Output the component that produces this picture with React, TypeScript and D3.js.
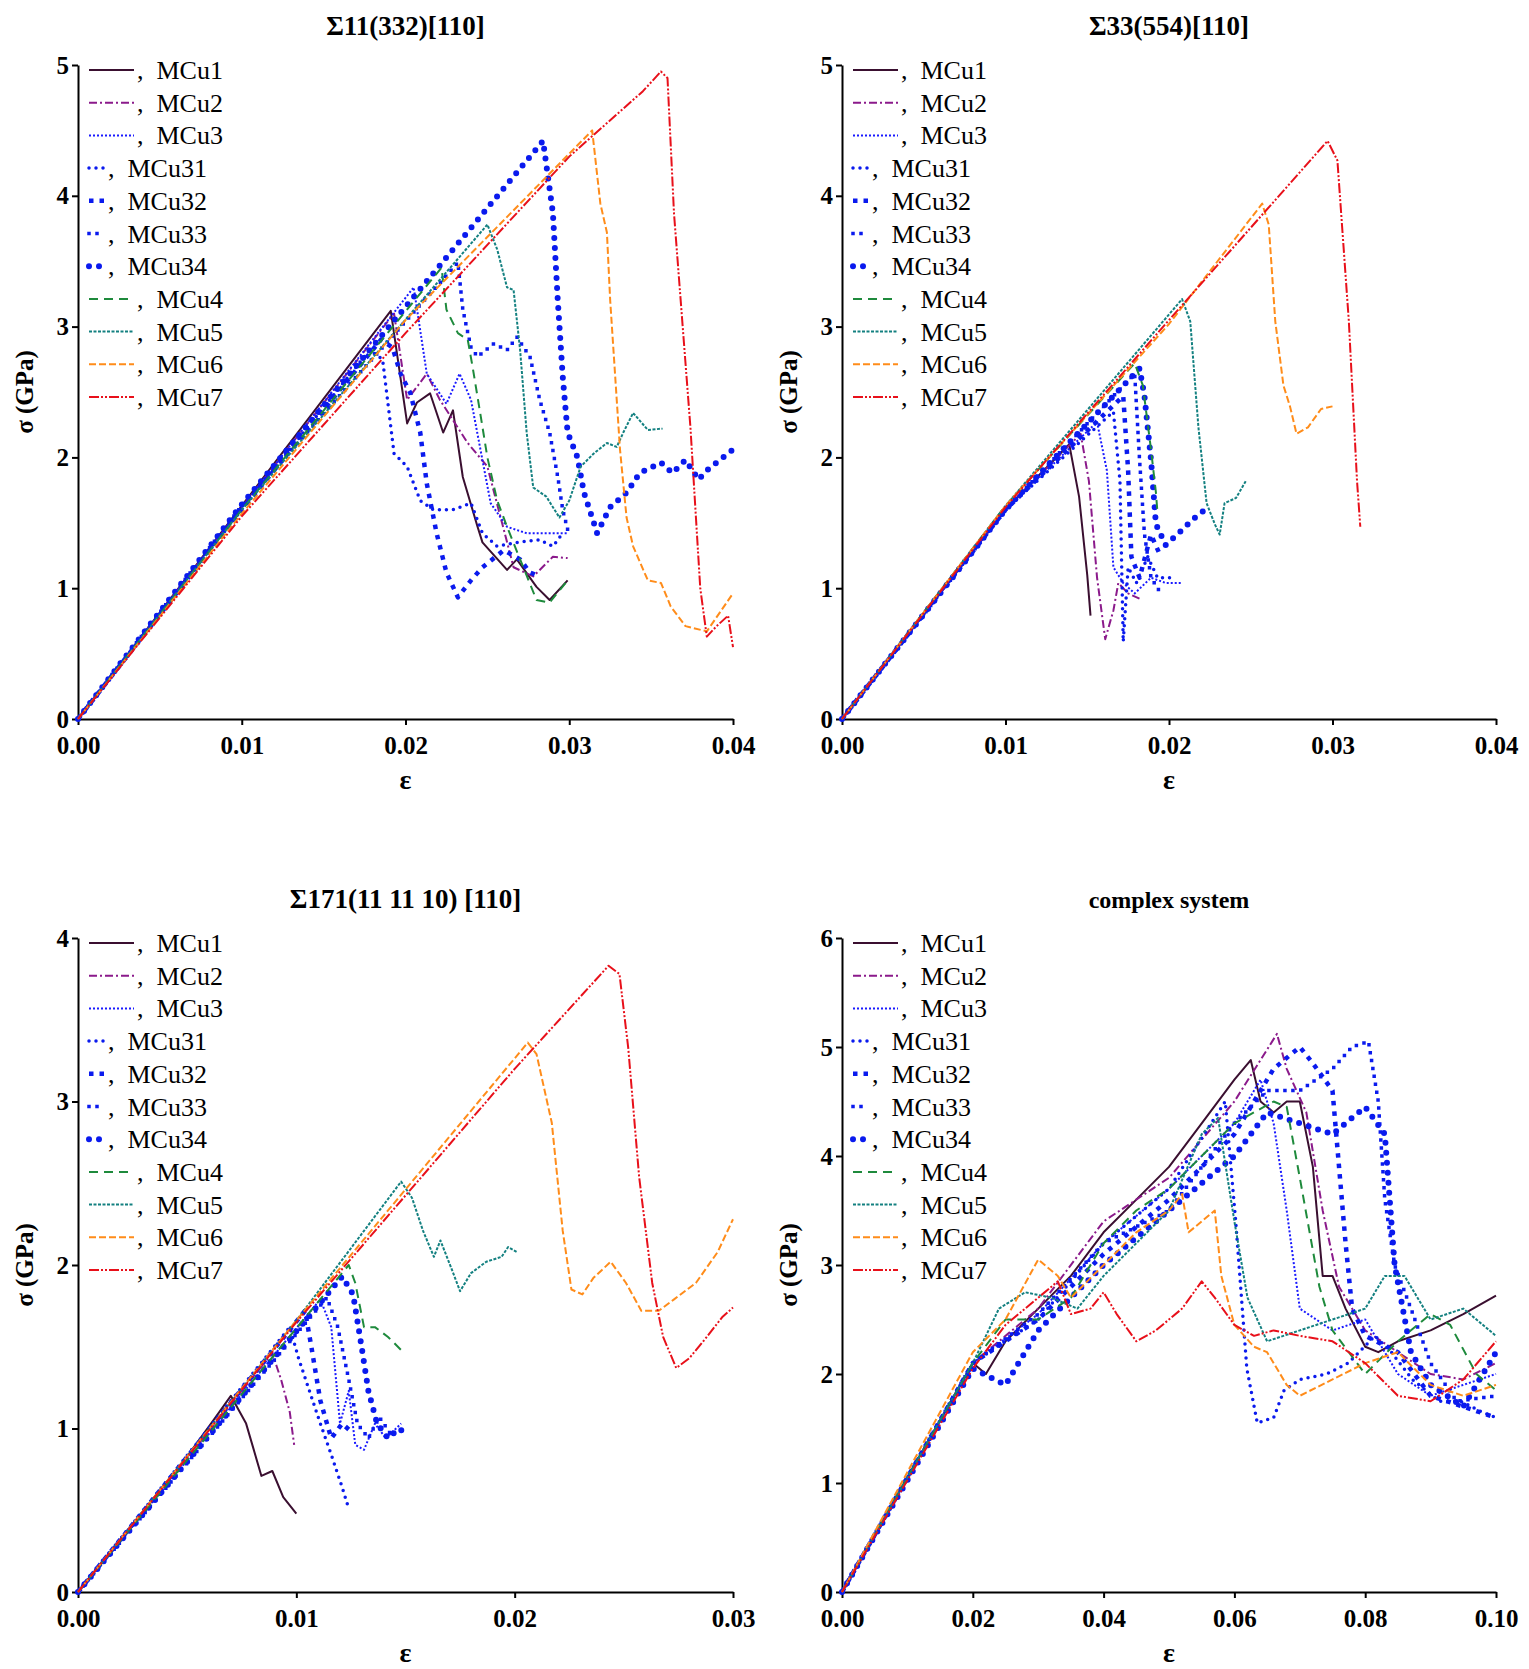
import React, { useEffect, useRef } from 'react';
import * as d3 from 'd3';

type Pt = [number, number];

const seriesNames = ['MCu1', 'MCu2', 'MCu3', 'MCu31', 'MCu32', 'MCu33', 'MCu34', 'MCu4', 'MCu5', 'MCu6', 'MCu7'];

// panel 1: Σ11(332)[110]
const p1: Pt[][] = [
  [[0, 0], [0.01, 1.63], [0.0191, 3.12], [0.0201, 2.26], [0.0207, 2.42], [0.0215, 2.49], [0.0223, 2.19], [0.0229, 2.36], [0.0235, 1.85], [0.0244, 1.47], [0.0247, 1.35], [0.0262, 1.14], [0.0268, 1.22], [0.028, 1.01], [0.0288, 0.91], [0.0299, 1.06]],
  [[0, 0], [0.01, 1.62], [0.0193, 3.1], [0.0201, 2.44], [0.0213, 2.64], [0.0221, 2.44], [0.0238, 2.11], [0.025, 1.93], [0.0266, 1.16], [0.0278, 1.09], [0.029, 1.24], [0.0299, 1.23]],
  [[0, 0], [0.01, 1.62], [0.0205, 3.3], [0.0213, 2.64], [0.0225, 2.41], [0.0233, 2.64], [0.024, 2.44], [0.0252, 1.65], [0.0262, 1.47], [0.0274, 1.42], [0.0286, 1.42], [0.0299, 1.42]],
  [[0, 0], [0.01, 1.6], [0.0178, 2.82], [0.0186, 2.75], [0.0193, 2.03], [0.0201, 1.93], [0.0209, 1.67], [0.0217, 1.6], [0.0229, 1.6], [0.024, 1.65], [0.0247, 1.42], [0.0256, 1.32], [0.0268, 1.35], [0.0282, 1.37], [0.029, 1.32], [0.0296, 1.42]],
  [[0, 0], [0.01, 1.6], [0.0185, 2.9], [0.0192, 2.84], [0.0197, 2.64], [0.0203, 2.49], [0.0209, 2.19], [0.0213, 1.8], [0.0219, 1.42], [0.0225, 1.12], [0.0232, 0.93], [0.024, 1.06], [0.0247, 1.16], [0.026, 1.29], [0.027, 1.22], [0.0276, 1.12], [0.0282, 1.09]],
  [[0, 0], [0.01, 1.63], [0.0232, 3.49], [0.0235, 3.13], [0.024, 2.84], [0.0244, 2.77], [0.0254, 2.87], [0.0262, 2.82], [0.0268, 2.92], [0.0276, 2.77], [0.0282, 2.44], [0.0288, 2.19], [0.0293, 1.85], [0.0296, 1.6], [0.0299, 1.45]],
  [[0, 0], [0.01, 1.64], [0.0284, 4.42], [0.029, 3.87], [0.0293, 3.2], [0.0296, 2.62], [0.0299, 2.19], [0.0305, 2.0], [0.0309, 1.73], [0.0315, 1.5], [0.0317, 1.42], [0.0325, 1.62], [0.0335, 1.73], [0.0343, 1.88], [0.0356, 1.96], [0.0363, 1.88], [0.0371, 1.98], [0.0379, 1.83], [0.0384, 1.9], [0.04, 2.06]],
  [[0, 0], [0.01, 1.6], [0.0222, 3.45], [0.0225, 3.13], [0.0232, 2.95], [0.0238, 2.9], [0.0241, 2.69], [0.0246, 2.31], [0.025, 2.0], [0.0256, 1.67], [0.0262, 1.47], [0.027, 1.22], [0.028, 0.91], [0.0288, 0.89], [0.0299, 1.06]],
  [[0, 0], [0.01, 1.6], [0.025, 3.78], [0.0256, 3.59], [0.0262, 3.3], [0.0266, 3.28], [0.027, 2.82], [0.0274, 2.19], [0.0278, 1.77], [0.0286, 1.7], [0.0294, 1.54], [0.03, 1.67], [0.0307, 1.93], [0.0315, 2.03], [0.0323, 2.11], [0.0329, 2.08], [0.0333, 2.19], [0.0339, 2.34], [0.0348, 2.21], [0.0357, 2.22]],
  [[0, 0], [0.01, 1.57], [0.02, 3.05], [0.0314, 4.5], [0.0319, 3.94], [0.0323, 3.72], [0.0325, 3.2], [0.0329, 2.44], [0.0331, 2.06], [0.0335, 1.54], [0.0339, 1.32], [0.0348, 1.06], [0.0356, 1.04], [0.0362, 0.86], [0.0371, 0.71], [0.0384, 0.67], [0.04, 0.96]],
  [[0, 0], [0.01, 1.55], [0.02, 2.95], [0.03, 4.3], [0.0345, 4.8], [0.0356, 4.95], [0.036, 4.9], [0.0364, 3.86], [0.0374, 2.23], [0.038, 1.0], [0.0384, 0.63], [0.039, 0.71], [0.0397, 0.79], [0.04, 0.55]],
];

// panel 2: Σ33(554)[110]
const p2: Pt[][] = [
  [[0, 0], [0.01, 1.6], [0.0139, 2.1], [0.0145, 1.7], [0.015, 1.1], [0.0152, 0.79]],
  [[0, 0], [0.01, 1.6], [0.0146, 2.18], [0.0151, 1.82], [0.0156, 1.08], [0.0161, 0.61], [0.0166, 0.83], [0.0169, 1.04], [0.0175, 0.96], [0.0182, 0.92]],
  [[0, 0], [0.01, 1.6], [0.0156, 2.27], [0.0162, 1.9], [0.0166, 1.16], [0.0172, 1.04], [0.0179, 0.96], [0.0189, 1.08], [0.0198, 1.04], [0.0208, 1.04]],
  [[0, 0], [0.01, 1.6], [0.0166, 2.35], [0.017, 1.82], [0.0172, 0.59], [0.0175, 1.16], [0.018, 1.04], [0.0187, 1.24], [0.0193, 1.08], [0.0202, 1.08]],
  [[0, 0], [0.01, 1.6], [0.0172, 2.47], [0.0175, 1.9], [0.0177, 1.24], [0.0182, 1.08], [0.0189, 1.41], [0.0195, 1.24]],
  [[0, 0], [0.01, 1.6], [0.0179, 2.64], [0.0182, 1.98], [0.0185, 1.41], [0.0189, 1.08], [0.0195, 0.96]],
  [[0, 0], [0.01, 1.6], [0.0182, 2.68], [0.0185, 2.47], [0.0189, 1.98], [0.0192, 1.49], [0.0198, 1.33], [0.0205, 1.41], [0.0215, 1.53], [0.0221, 1.59]],
  [[0, 0], [0.01, 1.63], [0.0179, 2.72], [0.0184, 2.55], [0.0189, 2.06], [0.0192, 1.73], [0.0193, 1.57]],
  [[0, 0], [0.01, 1.63], [0.0208, 3.21], [0.0213, 3.04], [0.0218, 2.23], [0.0223, 1.65], [0.0228, 1.49], [0.0231, 1.41], [0.0234, 1.65], [0.0241, 1.69], [0.0247, 1.82]],
  [[0, 0], [0.01, 1.63], [0.02, 3.02], [0.0257, 3.94], [0.0261, 3.78], [0.0265, 3.04], [0.027, 2.55], [0.0274, 2.39], [0.0278, 2.18], [0.0285, 2.23], [0.0293, 2.37], [0.03, 2.39]],
  [[0, 0], [0.01, 1.62], [0.02, 3.05], [0.0297, 4.42], [0.0303, 4.27], [0.031, 3.04], [0.0315, 1.82], [0.0317, 1.47]],
];

// panel 3: Σ171(11 11 10) [110]
const p3: Pt[][] = [
  [[0, 0], [0.005, 0.83], [0.0062, 1.05], [0.0070, 1.2], [0.0077, 1.03], [0.0084, 0.71], [0.0089, 0.74], [0.0094, 0.58], [0.01, 0.48]],
  [[0, 0], [0.0089, 1.46], [0.0093, 1.3], [0.0097, 1.1], [0.0099, 0.9]],
  [[0, 0], [0.0111, 1.79], [0.0116, 1.62], [0.012, 1.03], [0.0124, 1.23], [0.0127, 0.9], [0.0131, 0.87], [0.0136, 1.03], [0.0141, 0.94], [0.0148, 1.03]],
  [[0, 0], [0.0097, 1.62], [0.0101, 1.43], [0.0106, 1.23], [0.0111, 1.03], [0.0116, 0.84], [0.0121, 0.64], [0.0124, 0.51]],
  [[0, 0], [0.0104, 1.72], [0.0107, 1.49], [0.0111, 1.17], [0.0116, 0.94], [0.0121, 1.03], [0.0126, 0.97]],
  [[0, 0], [0.0114, 1.8], [0.0119, 1.62], [0.0124, 1.3], [0.0128, 1.03], [0.0133, 0.94], [0.0138, 1.07], [0.0143, 0.97]],
  [[0, 0], [0.0121, 1.93], [0.0126, 1.82], [0.013, 1.49], [0.0133, 1.23], [0.0137, 1.03], [0.0142, 0.94], [0.0147, 1.0], [0.015, 0.97]],
  [[0, 0], [0.0124, 2.0], [0.0127, 1.89], [0.0131, 1.62], [0.0136, 1.62], [0.0142, 1.56], [0.0148, 1.48]],
  [[0, 0], [0.01, 1.66], [0.0148, 2.51], [0.0153, 2.41], [0.0158, 2.21], [0.0163, 2.05], [0.0166, 2.15], [0.0171, 1.98], [0.0175, 1.84], [0.018, 1.95], [0.0187, 2.02], [0.0194, 2.05], [0.0197, 2.11], [0.0201, 2.08]],
  [[0, 0], [0.01, 1.66], [0.0206, 3.36], [0.021, 3.29], [0.0217, 2.87], [0.0222, 2.21], [0.0226, 1.85], [0.0231, 1.82], [0.0236, 1.92], [0.0244, 2.02], [0.0251, 1.89], [0.0258, 1.72], [0.0266, 1.72], [0.0273, 1.79], [0.0283, 1.89], [0.0293, 2.08], [0.03, 2.28]],
  [[0, 0], [0.01, 1.65], [0.02, 3.2], [0.0243, 3.83], [0.0248, 3.78], [0.0252, 3.33], [0.0257, 2.54], [0.0263, 1.89], [0.0268, 1.56], [0.0274, 1.37], [0.028, 1.43], [0.0288, 1.56], [0.0295, 1.68], [0.03, 1.74]],
];

// panel 4: complex system
const p4: Pt[][] = [
  [[0, 0], [0.02, 2.1], [0.022, 2.0], [0.025, 2.3], [0.03, 2.6], [0.035, 2.9], [0.04, 3.3], [0.045, 3.6], [0.05, 3.9], [0.055, 4.3], [0.06, 4.7], [0.0625, 4.88], [0.064, 4.5], [0.066, 4.4], [0.068, 4.5], [0.07, 4.5], [0.072, 3.9], [0.0735, 2.9], [0.075, 2.9], [0.077, 2.6], [0.08, 2.25], [0.082, 2.2], [0.085, 2.3], [0.09, 2.4], [0.095, 2.55], [0.1, 2.72]],
  [[0, 0], [0.02, 2.1], [0.03, 2.6], [0.04, 3.4], [0.05, 3.8], [0.06, 4.5], [0.0665, 5.12], [0.068, 4.8], [0.071, 4.4], [0.0735, 3.5], [0.076, 2.8], [0.08, 2.4], [0.085, 2.2], [0.09, 2.0], [0.095, 1.95], [0.1, 2.1]],
  [[0, 0], [0.02, 2.1], [0.03, 2.55], [0.04, 3.2], [0.05, 3.7], [0.06, 4.3], [0.064, 4.7], [0.066, 4.3], [0.068, 3.5], [0.07, 2.6], [0.075, 2.4], [0.08, 2.5], [0.085, 2.0], [0.09, 1.8], [0.095, 1.9], [0.1, 2.0]],
  [[0, 0], [0.02, 2.1], [0.03, 2.5], [0.04, 3.2], [0.05, 3.7], [0.0586, 4.5], [0.0602, 3.4], [0.0619, 2.05], [0.0635, 1.55], [0.066, 1.6], [0.0676, 1.85], [0.07, 1.95], [0.0741, 2.0], [0.0774, 2.1], [0.0815, 2.35], [0.084, 2.2], [0.0872, 1.95], [0.0913, 1.75], [0.0946, 1.75], [0.0979, 1.65], [0.1, 1.6]],
  [[0, 0], [0.02, 2.1], [0.03, 2.5], [0.04, 3.1], [0.05, 3.6], [0.06, 4.2], [0.066, 4.8], [0.07, 5.0], [0.072, 4.85], [0.075, 4.6], [0.077, 3.2], [0.078, 2.6], [0.08, 2.35], [0.085, 2.2], [0.09, 1.8], [0.095, 1.7], [0.1, 1.6]],
  [[0, 0], [0.02, 2.1], [0.03, 2.55], [0.04, 3.2], [0.05, 3.5], [0.06, 4.3], [0.065, 4.6], [0.07, 4.6], [0.075, 4.8], [0.078, 5.0], [0.0805, 5.05], [0.082, 4.5], [0.083, 3.6], [0.0845, 3.0], [0.087, 2.6], [0.09, 2.1], [0.094, 1.75], [0.1, 1.8]],
  [[0, 0], [0.02, 2.05], [0.025, 1.9], [0.03, 2.4], [0.04, 3.0], [0.05, 3.5], [0.06, 4.0], [0.065, 4.4], [0.07, 4.3], [0.075, 4.2], [0.08, 4.45], [0.083, 4.2], [0.0845, 3.0], [0.087, 2.2], [0.09, 1.9], [0.095, 1.7], [0.1, 2.2]],
  [[0, 0], [0.02, 2.1], [0.025, 2.5], [0.03, 2.5], [0.035, 2.7], [0.04, 3.2], [0.045, 3.5], [0.05, 3.7], [0.055, 4.0], [0.06, 4.3], [0.063, 4.4], [0.066, 4.5], [0.068, 4.45], [0.07, 3.8], [0.073, 2.8], [0.075, 2.4], [0.08, 2.0], [0.085, 2.3], [0.09, 2.55], [0.093, 2.45], [0.097, 2.0], [0.1, 1.85]],
  [[0, 0], [0.02, 2.1], [0.024, 2.6], [0.028, 2.75], [0.032, 2.7], [0.036, 2.6], [0.04, 2.9], [0.045, 3.2], [0.05, 3.5], [0.055, 4.2], [0.0575, 4.35], [0.06, 3.4], [0.062, 2.7], [0.065, 2.3], [0.07, 2.4], [0.075, 2.5], [0.08, 2.6], [0.083, 2.9], [0.086, 2.9], [0.09, 2.5], [0.095, 2.6], [0.1, 2.35]],
  [[0, 0], [0.02, 2.2], [0.025, 2.5], [0.03, 3.05], [0.033, 2.9], [0.035, 2.7], [0.04, 3.0], [0.045, 3.3], [0.05, 3.5], [0.052, 3.65], [0.053, 3.3], [0.055, 3.4], [0.057, 3.5], [0.058, 2.9], [0.06, 2.45], [0.063, 2.25], [0.065, 2.2], [0.068, 1.9], [0.07, 1.8], [0.075, 1.95], [0.08, 2.1], [0.085, 2.2], [0.09, 1.9], [0.095, 1.8], [0.1, 1.9]],
  [[0, 0], [0.02, 2.05], [0.025, 2.45], [0.03, 2.7], [0.033, 2.85], [0.035, 2.55], [0.038, 2.6], [0.04, 2.75], [0.042, 2.55], [0.045, 2.3], [0.048, 2.4], [0.052, 2.6], [0.055, 2.85], [0.057, 2.7], [0.06, 2.45], [0.063, 2.35], [0.066, 2.4], [0.07, 2.35], [0.075, 2.3], [0.08, 2.1], [0.085, 1.8], [0.09, 1.75], [0.095, 1.95], [0.1, 2.3]],
];

const titles = ['Σ11(332)[110]', 'Σ33(554)[110]', 'Σ171(11 11 10) [110]', 'complex system'];
const xMaxes = [0.04, 0.04, 0.03, 0.1];
const yMaxes = [5, 5, 4, 6];
const xTickStep = [0.01, 0.01, 0.01, 0.02];

type Style = { color: string; width: number; dash: string; cap: string; short: boolean };
const styles: Style[] = [
  { color: '#3a0f30', width: 2, dash: '', cap: 'butt', short: false },
  { color: '#8b1a8b', width: 2, dash: '8,3,2,3', cap: 'butt', short: false },
  { color: '#1a1aff', width: 2, dash: '2,2', cap: 'butt', short: false },
  { color: '#0a1aee', width: 3.5, dash: '0,7', cap: 'round', short: true },
  { color: '#0a1aee', width: 4.5, dash: '4.5,6', cap: 'butt', short: true },
  { color: '#0a1aee', width: 3.5, dash: '0,8', cap: 'square', short: true },
  { color: '#0a1aee', width: 6, dash: '0,10', cap: 'round', short: true },
  { color: '#1e8a3c', width: 2, dash: '9,6', cap: 'butt', short: false },
  { color: '#138080', width: 2, dash: '3,1.5', cap: 'butt', short: false },
  { color: '#ff8c1a', width: 2, dash: '7,3', cap: 'butt', short: false },
  { color: '#e8101a', width: 2, dash: '10,2,2,2,2,2', cap: 'butt', short: false },
];

const panels = [
  { data: p1, left: 78, right: 733, top: 65, bottom: 719 },
  { data: p2, left: 842, right: 1496, top: 65, bottom: 719 },
  { data: p3, left: 78, right: 733, top: 938, bottom: 1592 },
  { data: p4, left: 842, right: 1496, top: 938, bottom: 1592 },
];

export default function App() {
  const ref = useRef<SVGSVGElement>(null);

  useEffect(() => {
    const svg = d3.select(ref.current);
    svg.selectAll('*').remove();
    const font = '"Liberation Serif", "Times New Roman", serif';

    panels.forEach((p, i) => {
      const x = d3.scaleLinear().domain([0, xMaxes[i]]).range([p.left, p.right]);
      const y = d3.scaleLinear().domain([0, yMaxes[i]]).range([p.bottom, p.top]);
      const g = svg.append('g');

      const xTicks = d3.range(0, xMaxes[i] + 1e-9, xTickStep[i]);
      const xa = g.append('g').attr('transform', `translate(0,${p.bottom})`)
        .call(d3.axisBottom(x).tickValues(xTicks).tickFormat(d3.format('.2f')).tickSize(6).tickSizeOuter(0));
      const ya = g.append('g').attr('transform', `translate(${p.left},0)`)
        .call(d3.axisLeft(y).ticks(yMaxes[i]).tickFormat(d3.format('d')).tickSize(6).tickSizeOuter(0));
      [xa, ya].forEach(a => {
        a.selectAll('path,line').attr('stroke', '#000').attr('stroke-width', 2);
        a.selectAll('text').attr('font-family', font).attr('font-size', 25).attr('font-weight', 'bold').attr('fill', '#000');
      });
      xa.selectAll('text').attr('dy', '1.05em');

      g.append('text').attr('x', (p.left + p.right) / 2).attr('y', p.top - 30)
        .attr('text-anchor', 'middle').attr('font-family', font).attr('font-weight', 'bold')
        .attr('font-size', i === 3 ? 24 : 27).text(titles[i]);
      g.append('text').attr('x', (p.left + p.right) / 2).attr('y', p.bottom + 70)
        .attr('text-anchor', 'middle').attr('font-family', font).attr('font-weight', 'bold')
        .attr('font-size', 28).text('ε');
      g.append('text').attr('transform', `translate(${p.left - 45},${(p.top + p.bottom) / 2}) rotate(-90)`)
        .attr('text-anchor', 'middle').attr('font-family', font).attr('font-weight', 'bold')
        .attr('font-size', 25).text('σ (GPa)');

      const line = d3.line<Pt>().x(d => x(d[0])).y(d => y(d[1]));
      p.data.forEach((s, k) => {
        const st = styles[k];
        g.append('path').attr('d', line(s)).attr('fill', 'none').attr('stroke', st.color)
          .attr('stroke-width', st.width).attr('stroke-dasharray', st.dash || null)
          .attr('stroke-linecap', st.cap).attr('stroke-linejoin', 'round');
      });

      // legend
      seriesNames.forEach((name, k) => {
        const st = styles[k];
        const ly = p.top + 5 + k * 32.7;
        const lx = p.left + 11;
        const len = st.short ? 16 : 45;
        g.append('line').attr('x1', lx).attr('x2', lx + len).attr('y1', ly).attr('y2', ly)
          .attr('stroke', st.color).attr('stroke-width', st.width).attr('stroke-dasharray', st.dash || null)
          .attr('stroke-linecap', st.cap);
        g.append('text').attr('x', lx + len + 3).attr('y', ly + 9).attr('font-family', font)
          .attr('font-size', 26).attr('xml:space', 'preserve').text(`,  ${name}`);
      });
    });
  }, []);

  return (
    <svg ref={ref} width={1529} height={1669}
      style={{ position: 'absolute', left: 0, top: 0, display: 'block', background: '#fff' }} />
  );
}
